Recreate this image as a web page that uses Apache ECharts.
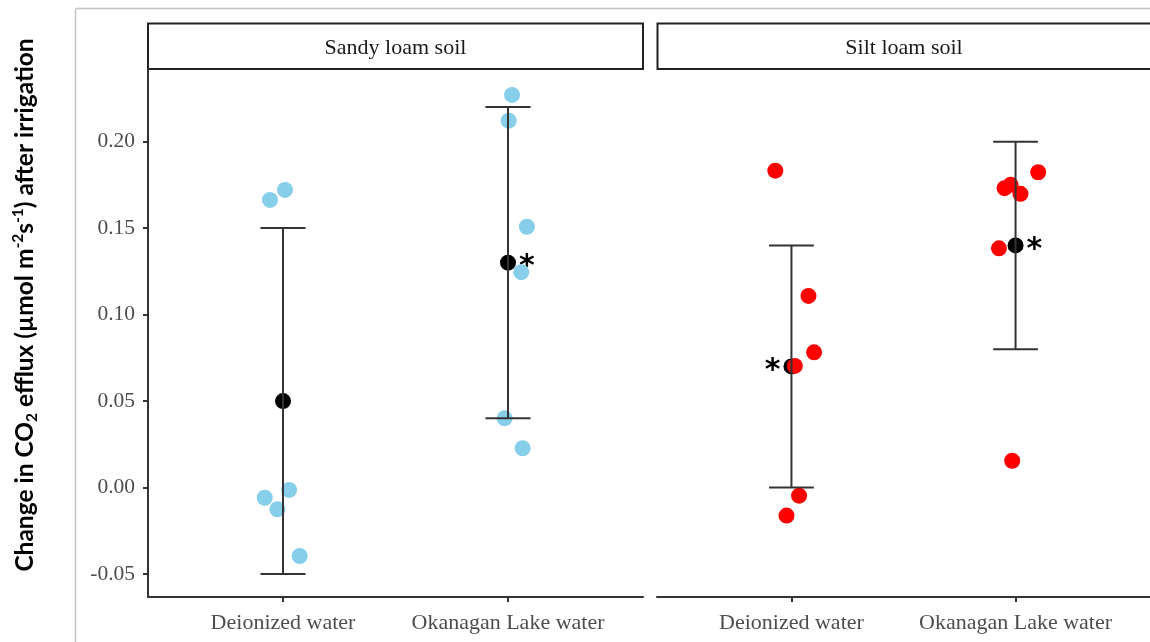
<!DOCTYPE html>
<html><head><meta charset="utf-8">
<script src="https://cdn.jsdelivr.net/npm/echarts@6/dist/echarts.min.js"></script>
<style>html,body{margin:0;padding:0;background:#fff}#c{width:1150px;height:642px}</style>
</head><body><div id="c"></div>
<script>
// ---------- data ----------
const soils = ['Sandy loam soil', 'Silt loam soil'];
const waterTypes = ['Deionized water', 'Okanagan Lake water'];
const yTicks = [-0.05, 0.00, 0.05, 0.10, 0.15, 0.20];

// individual observations (value) and horizontal jitter (in category units)
const sandyDeionized = [0.1663, 0.1721, -0.0059, -0.0126, -0.0014, -0.0396];
const sandyDeionizedJitter = [-0.058, 0.009, -0.081, -0.025, 0.027, 0.074];
const sandyLake = [0.2270, 0.2121, 0.1508, 0.1245, 0.0400, 0.0227];
const sandyLakeJitter = [0.018, 0.003, 0.084, 0.059, -0.015, 0.065];
const siltDeionized = [0.1832, 0.1108, 0.0782, 0.0703, -0.0047, -0.0162];
const siltDeionizedJitter = [-0.072, 0.076, 0.101, 0.015, 0.034, -0.022];
const siltLake = [0.1823, 0.1731, 0.1750, 0.1698, 0.1383, 0.0155];
const siltLakeJitter = [0.101, -0.049, -0.022, 0.022, -0.074, -0.015];

// means and error bar limits per water type
const sandyMeans = [0.05, 0.13];
const sandyLower = [-0.05, 0.04];
const sandyUpper = [0.15, 0.22];
const siltMeans = [0.07, 0.14];
const siltLower = [0.00, 0.08];
const siltUpper = [0.14, 0.20];
const sandySig = ['', '*'];
const siltSig = ['*', '*'];

// ---------- build ----------
const panels = [
  { obs: [sandyDeionized, sandyLake], jit: [sandyDeionizedJitter, sandyLakeJitter],
    means: sandyMeans, lo: sandyLower, hi: sandyUpper, sig: sandySig, color: '#87CEEB' },
  { obs: [siltDeionized, siltLake], jit: [siltDeionizedJitter, siltLakeJitter],
    means: siltMeans, lo: siltLower, hi: siltUpper, sig: siltSig, color: '#FF0000' }
];
const yMin = -0.0633, yMax = 0.2420;
const serif = 'Liberation Serif';
const axisColor = '#333333';

const grids = [
  { left: 148, top: 69, width: 495, height: 528 },
  { left: 657, top: 69, width: 495, height: 528 }
];
const xAxes = [0, 1].map(i => ({
  gridIndex: i, type: 'value', min: -0.6, max: 1.6,
  axisLine: { show: true, onZero: false, lineStyle: { color: axisColor, width: 2 } },
  axisTick: { show: true, length: 5, customValues: [0, 1], lineStyle: { color: axisColor, width: 2 } },
  axisLabel: { customValues: [0, 1], formatter: v => waterTypes[Math.round(v)],
    fontFamily: serif, fontSize: 22, color: '#4d4d4d', margin: 15 },
  splitLine: { show: false }
}));
const yAxes = [0, 1].map(i => ({
  gridIndex: i, type: 'value', min: yMin, max: yMax, show: i === 0,
  axisLine: { show: true, onZero: false, lineStyle: { color: axisColor, width: 2 } },
  axisTick: { show: true, length: 5, customValues: yTicks, lineStyle: { color: axisColor, width: 2 } },
  axisLabel: { customValues: yTicks, formatter: v => v.toFixed(2),
    fontFamily: serif, fontSize: 21.5, color: '#4d4d4d', margin: 13 },
  splitLine: { show: false }
}));

const series = [];
panels.forEach((p, pi) => {
  // means (drawn first, beneath points)
  series.push({
    type: 'scatter', xAxisIndex: pi, yAxisIndex: pi, symbolSize: 16,
    itemStyle: { color: '#000', opacity: 1 },
    data: p.means.map((m, g) => ({
      value: [g, m],
      label: {
        show: p.sig[g] !== '', formatter: p.sig[g],
        position: (pi === 1 && g === 0) ? 'left' : 'right', distance: 3,
        fontFamily: 'DejaVu Sans', fontWeight: 'bold', fontSize: 30, color: '#000', offset: [0, 5]
      }
    })),
    z: 2
  });
  // observations
  const pts = [];
  p.obs.forEach((arr, g) => arr.forEach((v, k) => pts.push([g + p.jit[g][k], v])));
  series.push({
    type: 'scatter', xAxisIndex: pi, yAxisIndex: pi, symbolSize: 16,
    itemStyle: { color: p.color, opacity: 1 }, data: pts, z: 3
  });
  // error bars
  series.push({
    type: 'custom', xAxisIndex: pi, yAxisIndex: pi, z: 4,
    encode: { x: 0, y: [1, 2] },
    data: p.means.map((m, g) => [g, p.lo[g], p.hi[g]]),
    renderItem: (params, api) => {
      const x = api.value(0), lo = api.value(1), hi = api.value(2);
      const a = api.coord([x, lo]), b = api.coord([x, hi]);
      const l = api.coord([x - 0.1, lo])[0], r = api.coord([x + 0.1, lo])[0];
      const st = { stroke: axisColor, lineWidth: 2 };
      return { type: 'group', children: [
        { type: 'line', shape: { x1: a[0], y1: a[1], x2: b[0], y2: b[1] }, style: st },
        { type: 'line', shape: { x1: l, y1: a[1], x2: r, y2: a[1] }, style: st },
        { type: 'line', shape: { x1: l, y1: b[1], x2: r, y2: b[1] }, style: st }
      ] };
    }
  });
});

const graphic = [
  { type: 'line', shape: { x1: 75.5, y1: 8.5, x2: 1150, y2: 8.5 }, style: { stroke: '#c4c4c4', lineWidth: 1.5 }, silent: true },
  { type: 'line', shape: { x1: 75.5, y1: 8.5, x2: 75.5, y2: 642 }, style: { stroke: '#c4c4c4', lineWidth: 1.5 }, silent: true },
  { type: 'rect', shape: { x: 148, y: 23.5, width: 495, height: 45.5 }, style: { fill: '#fff', stroke: '#222', lineWidth: 2 } },
  { type: 'rect', shape: { x: 657.5, y: 23.5, width: 500, height: 45.5 }, style: { fill: '#fff', stroke: '#222', lineWidth: 2 } },
  { type: 'text', x: 395.5, y: 48.5, style: { text: soils[0], fill: '#1a1a1a', font: '22px "Liberation Serif"', align: 'center', verticalAlign: 'middle' } },
  { type: 'text', x: 904, y: 48.5, style: { text: soils[1], fill: '#1a1a1a', font: '22px "Liberation Serif"', align: 'center', verticalAlign: 'middle' } },
  { type: 'text', x: 25, y: 305, rotation: Math.PI / 2,
    style: {
      text: '{n|Change in CO}{sub|2}{n| efflux (µmol m}{sup|-2}{n|s}{sup|-1}{n|) after irrigation}',
      align: 'center', verticalAlign: 'middle',
      rich: {
        n: { fontFamily: 'Lato', fontWeight: 'bold', fontSize: 24.5, lineHeight: 30, fill: '#000' },
        sub: { fontFamily: 'Lato', fontWeight: 'bold', fontSize: 15.5, lineHeight: 15, verticalAlign: 'bottom', fill: '#000' },
        sup: { fontFamily: 'Lato', fontWeight: 'bold', fontSize: 15.5, lineHeight: 15, verticalAlign: 'top', fill: '#000' }
      }
    }
  }
];

const chart = echarts.init(document.getElementById('c'), null, { renderer: 'canvas' });
chart.setOption({
  animation: false,
  backgroundColor: '#fff',
  grid: grids, xAxis: xAxes, yAxis: yAxes, series: series, graphic: graphic
});
</script></body></html>
